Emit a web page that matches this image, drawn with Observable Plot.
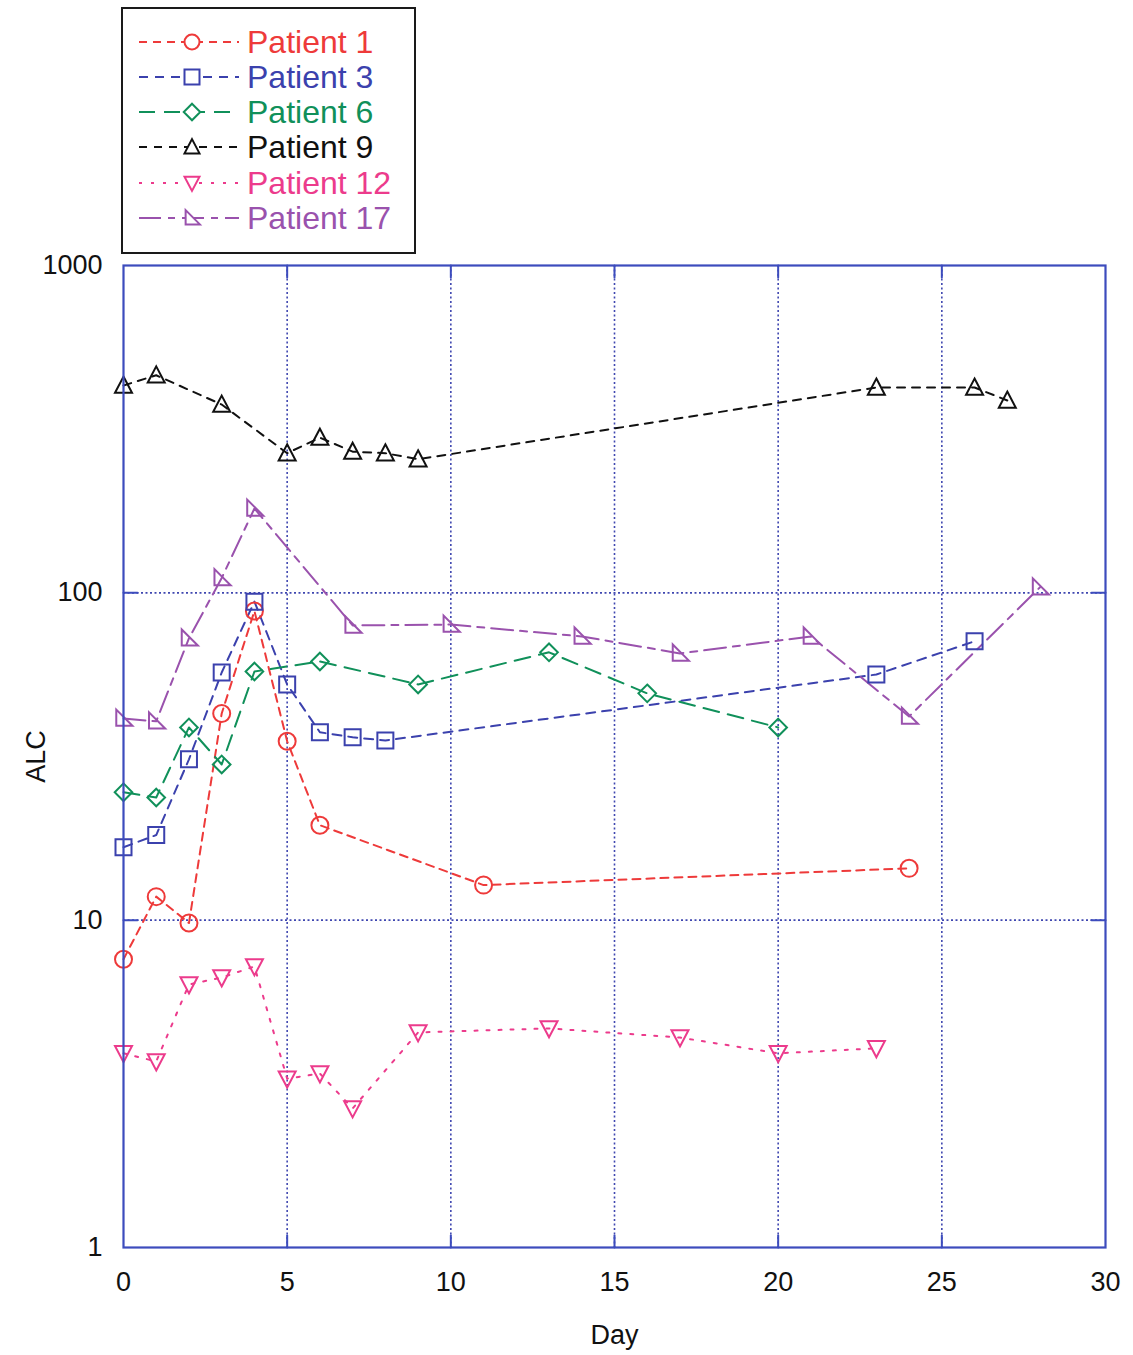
<!DOCTYPE html>
<html>
<head>
<meta charset="utf-8">
<script src="https://cdn.jsdelivr.net/npm/d3@7"></script>
<script src="https://cdn.jsdelivr.net/npm/@observablehq/plot@0.6"></script>
<style>
  body { margin: 0; background: #fff; font-family: "Liberation Sans", Arial, sans-serif; }
  #wrap { position: relative; width: 1133px; }
  #legendArea { position: relative; height: 225px; z-index: 2; }
  #legend { position: absolute; left: 121px; top: 7px; width: 291px; height: 243px; border: 2px solid #1a1a1a; box-sizing: content-box; }
  .item { position: absolute; left: 14px; height: 34px; display: flex; align-items: center; }
  .item span { font-size: 32px; margin-left: 6px; line-height: 34px; }
</style>
</head>
<body>
<div id="wrap">
  <div id="legendArea"><div id="legend"></div></div>
  <div id="chart"></div>
</div>
<script>
// ---- data ----
const patients = ["Patient 1", "Patient 3", "Patient 6", "Patient 9", "Patient 12", "Patient 17"];
const colors = ["#ee3a3a", "#3b41ad", "#10905a", "#111111", "#ec3b8c", "#9a52ad"];

const p1Day = [0, 1, 2, 3, 4, 5, 6, 11, 24];
const p1ALC = [7.6, 11.8, 9.8, 42.8, 88, 35.2, 19.5, 12.8, 14.4];

const p3Day = [0, 1, 2, 3, 4, 5, 6, 7, 8, 23, 26];
const p3ALC = [16.7, 18.2, 31.0, 57.1, 94, 52.5, 37.5, 36.2, 35.4, 56.3, 71.1];

const p6Day = [0, 1, 2, 3, 4, 6, 9, 13, 16, 20];
const p6ALC = [24.6, 23.7, 38.8, 29.9, 57.5, 61.7, 52.5, 65.8, 49.3, 38.8];

const p9Day = [0, 1, 3, 5, 6, 7, 8, 9, 23, 26, 27];
const p9ALC = [430, 462, 376, 267, 298, 270, 267, 256, 424, 424, 387];

const p12Day = [0, 1, 2, 3, 4, 5, 6, 7, 9, 13, 17, 20, 23];
const p12ALC = [3.92, 3.70, 6.36, 6.68, 7.22, 3.28, 3.40, 2.66, 4.54, 4.67, 4.38, 3.92, 4.06];

const p17Day = [0, 1, 2, 3, 4, 7, 10, 14, 17, 21, 24, 28];
const p17ALC = [41.3, 40.5, 72.6, 111, 181, 79.5, 80, 73.6, 65.3, 73.6, 41.9, 104];

const xTicks = [0, 5, 10, 15, 20, 25, 30];
const yTicks = [1, 10, 100, 1000];
const xGrid = [5, 10, 15, 20, 25];
const yGrid = [10, 100];

// ---- build table ----
const series = [[p1Day, p1ALC], [p3Day, p3ALC], [p6Day, p6ALC], [p9Day, p9ALC], [p12Day, p12ALC], [p17Day, p17ALC]];
const table = [];
series.forEach(([days, vals], i) => days.forEach((d, j) => table.push({patient: patients[i], day: d, alc: vals[j]})));

// ---- styles ----
const dashes = ["8,6", "9,7", "16,9", "8,7", "3,9", "22,7,7,7"];
const rad = s => Math.sqrt(s / Math.PI);
const symSquare = {draw(c, s) { const r = rad(s); c.rect(-r, -r, 2 * r, 2 * r); }};
const symDiamond = {draw(c, s) { const r = rad(s) * 1.1; c.moveTo(0, -r); c.lineTo(r, 0); c.lineTo(0, r); c.lineTo(-r, 0); c.closePath(); }};
const symUp = {draw(c, s) { const r = rad(s); c.moveTo(0, -r * 1.05); c.lineTo(r, r * 0.85); c.lineTo(-r, r * 0.85); c.closePath(); }};
const symDown = {draw(c, s) { const r = rad(s); c.moveTo(0, r * 1.05); c.lineTo(r, -r * 0.85); c.lineTo(-r, -r * 0.85); c.closePath(); }};
const symRight = {draw(c, s) { const r = rad(s); c.moveTo(-r * 0.85, -r * 1.05); c.lineTo(-r * 0.85, r * 0.85); c.lineTo(r * 1.05, r * 0.85); c.closePath(); }};
const symbols = ["circle", symSquare, symDiamond, symUp, symDown, symRight];
const radii = [8.5, 8, 8, 8.5, 8.5, 8.5];

const frameColor = "#3d4cbd";
const gridColor = "#3f47b0";
const tickShape = {draw(c, l) { c.moveTo(0, 0); c.lineTo(0, -l); }};

const marks = [
  Plot.ruleX(xGrid, {stroke: gridColor, strokeWidth: 1.6, strokeDasharray: "2,2.5"}),
  Plot.ruleY(yGrid, {stroke: gridColor, strokeWidth: 1.6, strokeDasharray: "2,2.5"}),
];
patients.forEach((p, i) => {
  const rows = table.filter(d => d.patient === p);
  marks.push(Plot.line(rows, {x: "day", y: "alc", stroke: colors[i], strokeWidth: 2, strokeDasharray: dashes[i]}));
});
patients.forEach((p, i) => {
  const rows = table.filter(d => d.patient === p);
  marks.push(Plot.dot(rows, {x: "day", y: "alc", symbol: symbols[i], r: radii[i], stroke: colors[i], strokeWidth: 2, fill: "none"}));
});
marks.push(
  Plot.vector(xGrid, {x: d => d, frameAnchor: "bottom", length: 12, anchor: "start", rotate: 0, shape: tickShape, stroke: frameColor, strokeWidth: 2}),
  Plot.vector(xGrid, {x: d => d, frameAnchor: "top", length: 12, anchor: "start", rotate: 180, shape: tickShape, stroke: frameColor, strokeWidth: 2}),
  Plot.vector(yGrid, {y: d => d, frameAnchor: "left", length: 14, anchor: "start", rotate: 90, shape: tickShape, stroke: frameColor, strokeWidth: 2}),
  Plot.vector(yGrid, {y: d => d, frameAnchor: "right", length: 14, anchor: "start", rotate: -90, shape: tickShape, stroke: frameColor, strokeWidth: 2}),
  Plot.frame({stroke: frameColor, strokeWidth: 2.2}),
  Plot.axisX(xTicks, {tickSize: 0, tickPadding: 24, fontSize: 27, label: "Day", labelAnchor: "center", labelOffset: 96, labelArrow: "none"}),
  Plot.axisY(yTicks, {tickSize: 0, tickPadding: 21, fontSize: 27, tickFormat: d => String(d), label: "ALC", labelAnchor: "center", labelOffset: 98, labelArrow: "none"})
);

const chart = Plot.plot({
  width: 1133,
  height: 1130,
  marginTop: 40,
  marginLeft: 123,
  marginRight: 28,
  marginBottom: 108,
  style: {background: "transparent", color: "#111", fontFamily: "'Liberation Sans', Arial, sans-serif", fontSize: "27px"},
  x: {domain: [0, 30]},
  y: {type: "log", domain: [1, 1000]},
  marks
});
document.getElementById("chart").appendChild(chart);

// ---- legend (HTML + small swatch svgs) ----
const legend = document.getElementById("legend");
const legendTop = [16, 51, 86, 121, 157, 192];
const svgNS = "http://www.w3.org/2000/svg";
patients.forEach((p, i) => {
  const item = document.createElement("div");
  item.className = "item";
  item.style.top = legendTop[i] + "px";
  const svg = document.createElementNS(svgNS, "svg");
  svg.setAttribute("width", 104);
  svg.setAttribute("height", 30);
  const line = document.createElementNS(svgNS, "line");
  line.setAttribute("x1", 2); line.setAttribute("x2", 102);
  line.setAttribute("y1", 15); line.setAttribute("y2", 15);
  line.setAttribute("stroke", colors[i]); line.setAttribute("stroke-width", 2);
  line.setAttribute("stroke-dasharray", dashes[i]);
  svg.appendChild(line);
  const path = document.createElementNS(svgNS, "path");
  const ctx = d3.path();
  const size = Math.PI * 7.5 * 7.5;
  if (symbols[i] === "circle") d3.symbolCircle.draw(ctx, size); else symbols[i].draw(ctx, size);
  path.setAttribute("d", ctx.toString());
  path.setAttribute("transform", "translate(55,15)");
  path.setAttribute("fill", "#fff");
  path.setAttribute("stroke", colors[i]); path.setAttribute("stroke-width", 2);
  svg.appendChild(path);
  item.appendChild(svg);
  const t = document.createElement("span");
  t.textContent = p;
  t.style.color = colors[i];
  item.appendChild(t);
  legend.appendChild(item);
});
</script>
</body>
</html>
